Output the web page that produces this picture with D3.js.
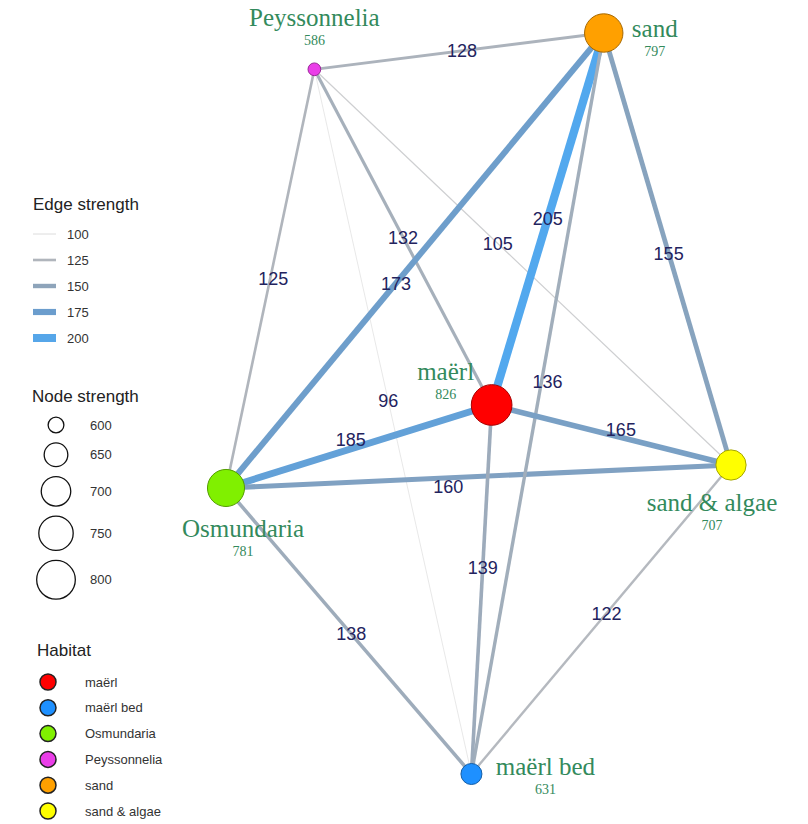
<!DOCTYPE html>
<html>
<head>
<meta charset="utf-8">
<script src="https://d3js.org/d3.v7.min.js"></script>
<style>
  body { margin: 0; background: #fff; }
  svg { display: block; }
</style>
</head>
<body>
<div id="chart"></div>
<script>
// habitats (nodes)
const habitats = ["maërl", "maërl bed", "Osmundaria", "Peyssonnelia", "sand", "sand & algae"];
const nodeStrength = [826, 631, 781, 586, 797, 707];
const habitatColors = ["#ff0000", "#1e90ff", "#80f000", "#ea3ee8", "#ffa000", "#ffff00"];

// layout coordinates of the network (layout units 0..1)
const layoutX = [0.526, 0.486, 0, 0.175, 0.748, 1];
const layoutY = [0.502, 1, 0.614, 0.049, 0, 0.583];

// edges
const edgeFrom = [3, 3, 3, 3, 3, 2, 2, 2, 2, 4, 4, 4, 0, 0, 5];
const edgeTo = [4, 2, 0, 5, 1, 4, 0, 5, 1, 0, 5, 1, 5, 1, 1];
const edgeStrength = [128, 125, 132, 105, 96, 173, 185, 160, 138, 205, 155, 136, 165, 139, 122];
// where the label sits along each edge (0 = from, 1 = to) and small nudges
const edgeLabelPos = [0.51, 0.5, 0.5, 0.44, 0.47, 0.45, 0.47, 0.44, 0.51, 0.5, 0.51, 0.47, 0.54, 0.44, 0.48];
const edgeLabelDX = [0, 3, 0, 0, 0, 0, 0, 0, 0, 0, 0, 6, 0, 0, 0];
const edgeLabelDY = [0, 0, 0, 0, 0, 0, -9, 9, 0, 0, 0, 0, -8, 0, 0];

// legend values
const edgeLegend = [100, 125, 150, 175, 200];
const nodeLegend = [600, 650, 700, 750, 800];

// label nudges for node names (px from node centre)
const labelDX = [-46, 74, 17, 0, 51, -19];
const labelDY = [-25, 1, 49, -43, 4, 46];

const width = 808, height = 824;

const svg = d3.select('#chart')
    .append('svg')
    .attr('width', width)
    .attr('height', height);

// scales
const x = d3.scaleLinear().domain([0, 1]).range([226, 731]);
const y = d3.scaleLinear().domain([0, 1]).range([33, 774]);
const nodeArea = d3.scaleLinear().domain([560, 830]).range([0, 420]);
const radius = v => Math.sqrt(Math.max(0, nodeArea(v)));
const edgeWidth = d3.scaleLinear().domain([95, 205]).range([0.5, 8.3]);
const edgeColor = d3.scaleLinear()
    .domain([100, 125, 150, 175, 205])
    .range(["#d6d6d6", "#b0b5bc", "#8ea4ba", "#6b9dcd", "#52a8ee"])
    .clamp(true);

const nodes = habitats.map((h, i) => ({
    name: h, strength: nodeStrength[i], color: habitatColors[i],
    px: x(layoutX[i]), py: y(layoutY[i]), dx: labelDX[i], dy: labelDY[i]
}));
const edges = edgeStrength.map((s, i) => ({
    source: nodes[edgeFrom[i]], target: nodes[edgeTo[i]], strength: s,
    t: edgeLabelPos[i], dx: edgeLabelDX[i], dy: edgeLabelDY[i]
}));

// edges
svg.append('g')
    .selectAll('line')
    .data(edges)
    .enter()
    .append('line')
    .attr('x1', d => d.source.px)
    .attr('y1', d => d.source.py)
    .attr('x2', d => d.target.px)
    .attr('y2', d => d.target.py)
    .attr('stroke', d => edgeColor(d.strength))
    .attr('stroke-width', d => edgeWidth(d.strength));

// edge labels
svg.append('g')
    .selectAll('text')
    .data(edges)
    .enter()
    .append('text')
    .attr('x', d => d.source.px + (d.target.px - d.source.px) * d.t + d.dx)
    .attr('y', d => d.source.py + (d.target.py - d.source.py) * d.t + d.dy)
    .attr('dy', '0.36em')
    .attr('text-anchor', 'middle')
    .attr('font-family', '"Liberation Sans", Arial, sans-serif')
    .attr('font-size', '18px')
    .attr('fill', '#23235e')
    .text(d => d.strength);

// nodes
svg.append('g')
    .selectAll('circle')
    .data(nodes)
    .enter()
    .append('circle')
    .attr('cx', d => d.px)
    .attr('cy', d => d.py)
    .attr('r', d => radius(d.strength))
    .attr('fill', d => d.color)
    .attr('stroke', d => d3.color(d.color).darker(1.2))
    .attr('stroke-width', 1);

// node labels
const labels = svg.append('g')
    .selectAll('g')
    .data(nodes)
    .enter()
    .append('g')
    .attr('transform', d => `translate(${d.px + d.dx},${d.py + d.dy})`)
    .attr('fill', '#338a5c')
    .attr('font-family', '"Liberation Serif", "Times New Roman", serif')
    .attr('text-anchor', 'middle');
labels.append('text')
    .attr('font-size', '25px')
    .text(d => d.name);
labels.append('text')
    .attr('y', 19)
    .attr('font-size', '14px')
    .text(d => d.strength);

// legends
const legend = svg.append('g')
    .attr('font-family', '"Liberation Sans", Arial, sans-serif');

// edge strength legend
legend.append('text')
    .attr('x', 33).attr('y', 210)
    .attr('font-size', '17px').attr('fill', '#222')
    .text('Edge strength');
const edgeKeys = legend.append('g')
    .selectAll('g')
    .data(edgeLegend)
    .enter()
    .append('g')
    .attr('transform', (d, i) => `translate(0,${234 + i * 26})`);
edgeKeys.append('line')
    .attr('x1', 33).attr('x2', 56)
    .attr('stroke', d => edgeColor(d))
    .attr('stroke-width', d => edgeWidth(d));
edgeKeys.append('text')
    .attr('x', 67).attr('dy', '0.36em')
    .attr('font-size', '13px').attr('fill', '#333')
    .text(d => d);

// node strength legend
legend.append('text')
    .attr('x', 32).attr('y', 402)
    .attr('font-size', '17px').attr('fill', '#222')
    .text('Node strength');
let cy = 425;
const nodeKeyY = nodeLegend.map((v, i) => {
    if (i > 0) cy += radius(nodeLegend[i - 1]) + radius(v) + 10;
    return cy;
});
const nodeKeys = legend.append('g')
    .selectAll('g')
    .data(nodeLegend)
    .enter()
    .append('g')
    .attr('transform', (d, i) => `translate(0,${nodeKeyY[i]})`);
nodeKeys.append('circle')
    .attr('cx', 56)
    .attr('r', d => radius(d))
    .attr('fill', 'none')
    .attr('stroke', '#111')
    .attr('stroke-width', 1.3);
nodeKeys.append('text')
    .attr('x', 90).attr('dy', '0.36em')
    .attr('font-size', '13px').attr('fill', '#333')
    .text(d => d);

// habitat legend
legend.append('text')
    .attr('x', 37).attr('y', 656)
    .attr('font-size', '17px').attr('fill', '#222')
    .text('Habitat');
const habKeys = legend.append('g')
    .selectAll('g')
    .data(habitats)
    .enter()
    .append('g')
    .attr('transform', (d, i) => `translate(0,${682 + i * 25.8})`);
habKeys.append('circle')
    .attr('cx', 48)
    .attr('r', 8)
    .attr('fill', (d, i) => habitatColors[i])
    .attr('stroke', '#222')
    .attr('stroke-width', 1.5);
habKeys.append('text')
    .attr('x', 85).attr('dy', '0.36em')
    .attr('font-size', '13px').attr('fill', '#333')
    .text(d => d);
</script>
</body>
</html>
